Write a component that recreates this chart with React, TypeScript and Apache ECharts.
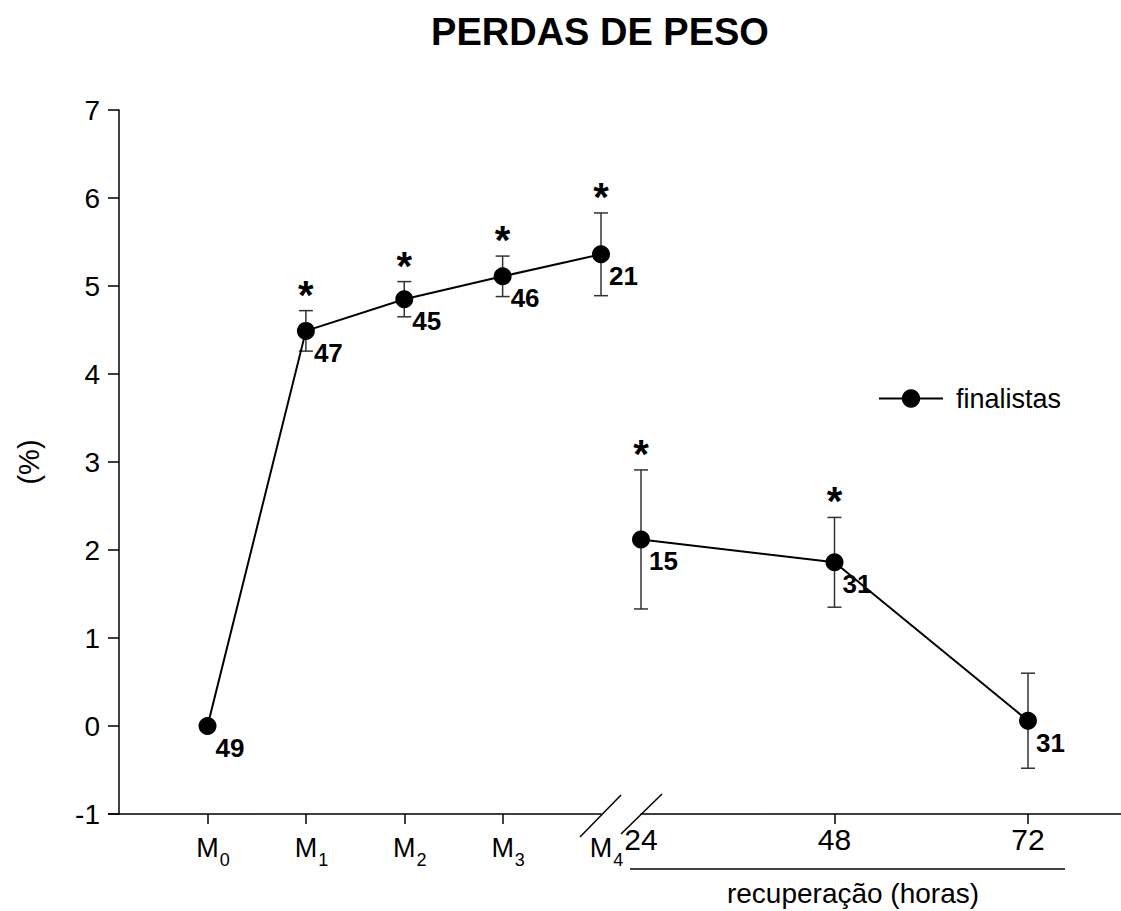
import React, { useEffect, useRef } from "react";
import * as echarts from "echarts";

// ---- data ----
const momentSubs = ["0", "1", "2", "3", "4"]; // M0..M4
const momentPos = [0, 1, 2, 3, 4];
const momentMeans = [0, 4.49, 4.85, 5.11, 5.36];
const momentErr = [0, 0.23, 0.2, 0.23, 0.47];
const momentN = [49, 47, 45, 46, 21];
const momentSig = [0, 1, 1, 1, 1];

const recoveryHours = [24, 48, 72];
const recoveryMeans = [2.12, 1.86, 0.06];
const recoveryErr = [0.79, 0.51, 0.54];
const recoveryN = [15, 31, 31];
const recoverySig = [1, 1, 0];

const yTicks = [-1, 0, 1, 2, 3, 4, 5, 6, 7];

const FONT = 'Arial, "Liberation Sans", Helvetica, sans-serif';

function errorRender(params: any, api: any) {
  const x = api.value(0);
  const m = api.value(1);
  const e = api.value(2);
  const sig = api.value(3);
  const children: any[] = [];
  const top = api.coord([x, m + e]);
  const bot = api.coord([x, m - e]);
  const cap = 7;
  const st = { stroke: "#333", lineWidth: 1.5 };
  if (e > 0) {
    children.push({ type: "line", shape: { x1: top[0], y1: top[1], x2: bot[0], y2: bot[1] }, style: st });
    children.push({ type: "line", shape: { x1: top[0] - cap, y1: top[1], x2: top[0] + cap, y2: top[1] }, style: st });
    children.push({ type: "line", shape: { x1: bot[0] - cap, y1: bot[1], x2: bot[0] + cap, y2: bot[1] }, style: st });
  }
  if (sig) {
    children.push({
      type: "text",
      x: top[0],
      y: top[1] - 16,
      style: {
        text: "*",
        font: `bold 40px ${FONT}`,
        fill: "#000",
        align: "center",
        verticalAlign: "middle",
      },
    });
  }
  return { type: "group", children };
}

export default function App() {
  const ref = useRef<HTMLDivElement>(null);
  useEffect(() => {
    const chart = echarts.init(ref.current!, undefined, { renderer: "svg" });
    const labelStyle = {
      show: true,
      position: "right",
      distance: -1,
      offset: [0, 22],
      color: "#000",
      fontSize: 26,
      fontWeight: "bold",
      fontFamily: FONT,
    };
    const axisLineStyle = { show: true, onZero: false, lineStyle: { color: "#000", width: 1.5 } };
    const option: any = {
      animation: false,
      backgroundColor: "#fff",
      textStyle: { fontFamily: FONT },
      grid: [
        { left: 119, top: 110, width: 482, height: 704 },
        { left: 641, top: 110, width: 480, height: 704 },
      ],
      xAxis: [
        {
          type: "value",
          gridIndex: 0,
          min: -0.9,
          max: 4,
          splitLine: { show: false },
          axisLine: axisLineStyle,
          axisTick: { show: true, length: 10, customValues: [0, 1, 2, 3], lineStyle: { color: "#000", width: 1.5 } },
          axisLabel: {
            customValues: momentPos,
            margin: 20,
            padding: [0, 0, 0, 11],
            formatter: (v: number) => `{m|M}{s|${momentSubs[Math.round(v)]}}`,
            rich: {
              m: { fontSize: 27, color: "#000", fontFamily: FONT, lineHeight: 27, verticalAlign: "top" },
              s: { fontSize: 18, color: "#000", fontFamily: FONT, lineHeight: 52, verticalAlign: "middle", padding: [0, 0, 0, 1] },
            },
          },
        },
        {
          type: "value",
          gridIndex: 1,
          min: 24,
          max: 24 + 480 / 8.0625,
          splitLine: { show: false },
          axisLine: axisLineStyle,
          axisTick: { show: true, length: 10, customValues: [48, 72], lineStyle: { color: "#000", width: 1.5 } },
          axisLabel: {
            customValues: recoveryHours,
            margin: 10,
            fontSize: 30,
            color: "#000",
            fontFamily: FONT,
          },
        },
      ],
      yAxis: [
        {
          type: "value",
          gridIndex: 0,
          min: -1,
          max: 7,
          interval: 1,
          splitLine: { show: false },
          axisLine: axisLineStyle,
          axisTick: { show: true, length: 11, lineStyle: { color: "#000", width: 1.5 } },
          axisLabel: {
            margin: 19,
            fontSize: 28,
            color: "#000",
            fontFamily: FONT,
            formatter: (v: number) => (yTicks.includes(v) ? String(v) : ""),
          },
        },
        { type: "value", gridIndex: 1, min: -1, max: 7, interval: 1, show: false },
      ],
      legend: {
        data: ["finalistas"],
        left: 873,
        top: 380,
        itemWidth: 64,
        itemHeight: 23,
        itemGap: 10,
        textStyle: { fontSize: 27, color: "#000", fontFamily: FONT, padding: [0, 0, 0, 8] },
      },
      series: [
        {
          type: "custom",
          xAxisIndex: 0,
          yAxisIndex: 0,
          renderItem: errorRender,
          data: momentPos.map((p, i) => [p, momentMeans[i], momentErr[i], momentSig[i]]),
          z: 1,
          silent: true,
        },
        {
          type: "custom",
          xAxisIndex: 1,
          yAxisIndex: 1,
          renderItem: errorRender,
          data: recoveryHours.map((h, i) => [h, recoveryMeans[i], recoveryErr[i], recoverySig[i]]),
          z: 1,
          silent: true,
        },
        {
          name: "finalistas",
          type: "line",
          xAxisIndex: 0,
          yAxisIndex: 0,
          data: momentPos.map((p, i) => [p, momentMeans[i]]),
          symbol: "circle",
          symbolSize: 18,
          itemStyle: { color: "#000" },
          lineStyle: { color: "#000", width: 2 },
          label: { ...labelStyle, formatter: (p: any) => String(momentN[p.dataIndex]) },
          z: 3,
        },
        {
          name: "finalistas",
          type: "line",
          xAxisIndex: 1,
          yAxisIndex: 1,
          data: recoveryHours.map((h, i) => [h, recoveryMeans[i]]),
          symbol: "circle",
          symbolSize: 18,
          itemStyle: { color: "#000" },
          lineStyle: { color: "#000", width: 2 },
          label: { ...labelStyle, formatter: (p: any) => String(recoveryN[p.dataIndex]) },
          z: 3,
        },
      ],
      graphic: [
        {
          type: "text",
          x: 600,
          y: 32,
          style: { text: "PERDAS DE PESO", font: `bold 38px ${FONT}`, fill: "#000", align: "center", verticalAlign: "middle" },
        },
        {
          type: "text",
          x: 29,
          y: 462,
          rotation: Math.PI / 2,
          style: { text: "(%)", font: `29px ${FONT}`, fill: "#000", align: "center", verticalAlign: "middle" },
        },
        { type: "line", shape: { x1: 108, y1: 814, x2: 119, y2: 814 }, style: { stroke: "#000", lineWidth: 1.5 } },
        { type: "line", shape: { x1: 580, y1: 837, x2: 621, y2: 795 }, style: { stroke: "#000", lineWidth: 1.5 } },
        { type: "line", shape: { x1: 621, y1: 834, x2: 662, y2: 794 }, style: { stroke: "#000", lineWidth: 1.5 } },
        { type: "line", shape: { x1: 630, y1: 869, x2: 1065, y2: 869 }, style: { stroke: "#444", lineWidth: 2 } },
        {
          type: "text",
          x: 853,
          y: 893,
          style: { text: "recuperação (horas)", font: `28px ${FONT}`, fill: "#000", align: "center", verticalAlign: "middle" },
        },
      ],
    };
    chart.setOption(option);
    return () => chart.dispose();
  }, []);
  return (
    <div
      ref={ref}
      style={{ position: "absolute", left: 0, top: 0, width: 1121, height: 911, background: "#fff" }}
    />
  );
}
